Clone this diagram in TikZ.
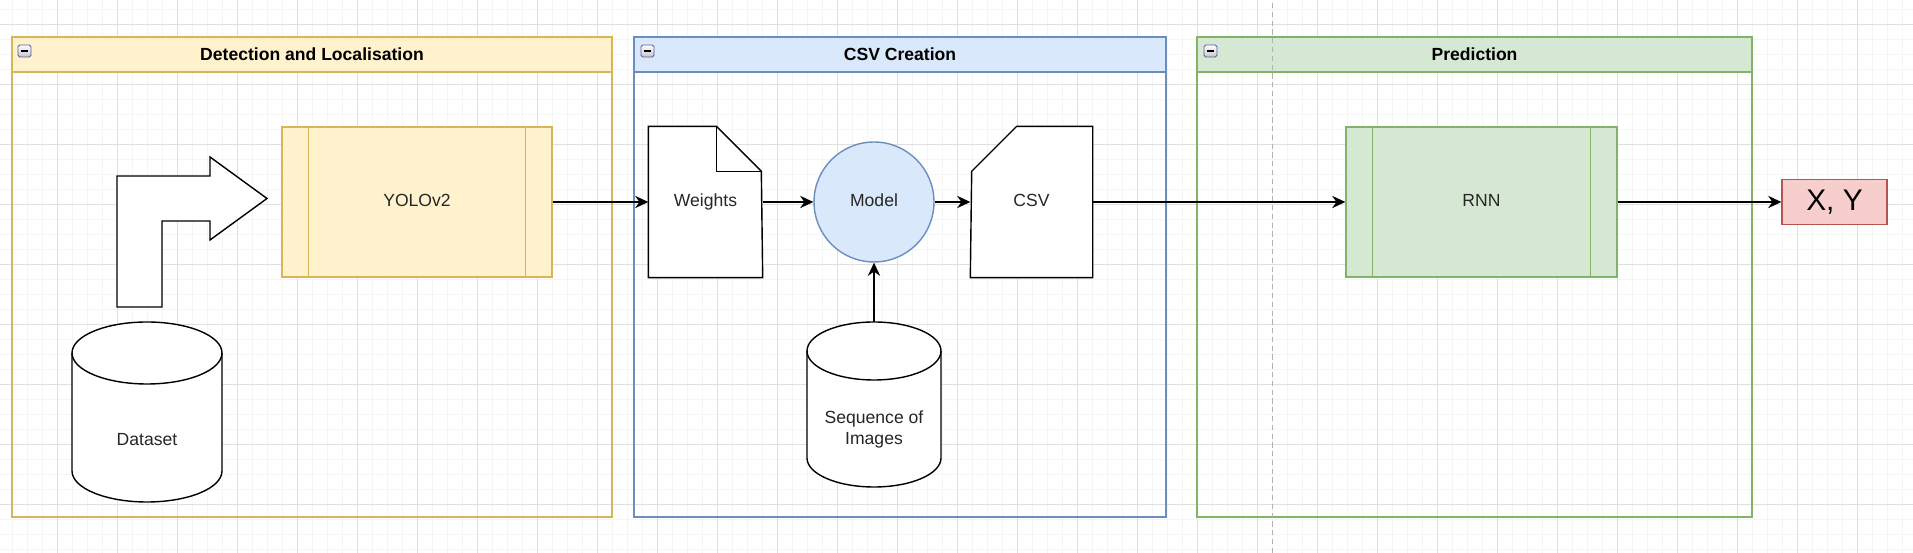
\documentclass[tikz,border=0pt]{standalone}
\usepackage{fontspec}
\setmainfont{Liberation Sans}
\usetikzlibrary{arrows.meta, positioning}
\definecolor{yellowfill}{HTML}{FFF2CC}
\definecolor{yellowline}{HTML}{D6B656}
\definecolor{bluefill}{HTML}{DAE8FC}
\definecolor{blueline}{HTML}{6C8EBF}
\definecolor{greenfill}{HTML}{D5E8D4}
\definecolor{greenline}{HTML}{82B366}
\definecolor{redfill}{HTML}{F8CECC}
\definecolor{redline}{HTML}{B85450}

\begin{document}
\begin{tikzpicture}[x=0.02cm, y=0.02cm, >={Stealth[length=7.5pt, width=7pt]},
  majorgrid/.style={draw=black!12, line width=0.5pt},
  minorgrid/.style={draw=black!4, line width=0.5pt},
  frameline/.style={line width=0.8pt},
  title/.style={font=\bfseries\fontsize{10}{12}\selectfont},
  icon/.style={draw=gray!70!blue, line width=0.5pt, top color=white, bottom color=gray!45, rounded corners=1pt},
  box/.style={draw, line width=0.8pt, inner sep=0pt, minimum height=3cm, text=black!85,
    text height=7.2pt, text depth=2.1pt, font=\fontsize{10}{12}\selectfont},
  shapeline/.style={draw=black, line width=0.8pt, fill=white},
  plain/.style={text=black!85, font=\fontsize{10}{12}\selectfont, align=center},
  conn/.style={->, line width=0.8pt},
  pagebreak/.style={draw=black!30, line width=0.5pt, dash pattern=on 3pt off 2pt}]
  % Background and grid
  \fill[white] (0,0) rectangle (1913,553);
  \useasboundingbox (0,0) rectangle (1913,553);
  \foreach \gx in {12,27,...,1910} \draw[minorgrid] (\gx,0) -- (\gx,553);
  \foreach \gy in {4,19,...,550} \draw[minorgrid] (0,\gy) -- (1913,\gy);
  \foreach \gx in {57,117,...,1910} \draw[majorgrid] (\gx,0) -- (\gx,553);
  \foreach \gy in {49,109,...,550} \draw[majorgrid] (0,\gy) -- (1913,\gy);

  % Frames
  \draw[frameline, yellowline] (12,36) rectangle (612,481);
  \draw[frameline, yellowline, fill=yellowfill] (12,481) rectangle (612,516);
  \node[title] (dettitle) at (312,498.5) {Detection and Localisation};
  \draw[icon] (18,496) rectangle (31,508);
  \draw[line width=1pt] (21,502) -- (28,502);

  \draw[frameline, blueline] (634,36) rectangle (1166,481);
  \draw[frameline, blueline, fill=bluefill] (634,481) rectangle (1166,516);
  \node[title] (csvtitle) at (900,498.5) {CSV Creation};
  \draw[icon] (641,496) rectangle (654,508);
  \draw[line width=1pt] (644,502) -- (651,502);

  \draw[frameline, greenline] (1197,36) rectangle (1752,481);
  \draw[frameline, greenline, fill=greenfill] (1197,481) rectangle (1752,516);
  \node[title] (predtitle) at (1474.5,498.5) {Prediction};
  \draw[icon] (1204,496) rectangle (1217,508);
  \draw[line width=1pt] (1207,502) -- (1214,502);

  % Page break
  \draw[pagebreak] (1272,0) -- (1272,553);

  % Detection and Localisation
  \node[box, fill=yellowfill, draw=yellowline, minimum width=5.4cm] (yolo) at (417,351) {YOLOv2};
  \draw[yellowline, line width=0.8pt] ([xshift=0.54cm]yolo.north west) -- ([xshift=0.54cm]yolo.south west);
  \draw[yellowline, line width=0.8pt] ([xshift=-0.54cm]yolo.north east) -- ([xshift=-0.54cm]yolo.south east);
  \draw[shapeline] (117,246) -- (117,377) -- (210,377) -- (210,396) -- (267,354.5)
    -- (210,313) -- (210,332) -- (162,332) -- (162,246) -- cycle;
  \draw[shapeline] (72,200) -- (72,82) arc[start angle=180, end angle=360, x radius=75, y radius=31]
    -- (222,200) arc[start angle=0, end angle=180, x radius=75, y radius=31] -- cycle;
  \draw[shapeline, fill=none] (72,200) arc[start angle=180, end angle=360, x radius=75, y radius=31];
  \node[plain] (dataset) at (147,113) {Dataset};

  % CSV Creation
  \node[box, draw=none, minimum width=2.26cm] (weights) at (705.5,351) {};
  \draw[shapeline] (weights.south west) -- (weights.north west) -- ++(68,0) -- ++(45,-45)
    -- (weights.south east) -- cycle;
  \draw[shapeline, fill=none] ([xshift=1.36cm]weights.north west) -- ++(0,-45) -- ++(45,0);
  \node[plain, text height=7.2pt, text depth=2.1pt] (weightstext) at (weights) {Weights};
  \node[box, circle, fill=bluefill, draw=blueline, minimum size=2.4cm] (model) at (874,351) {Model};
  \node[box, draw=none, minimum width=2.42cm] (csv) at (1031.5,351) {};
  \draw[shapeline] (csv.south west) -- (csv.south east) -- (csv.north east) -- ++(-76,0)
    -- ++(-45,-45) -- cycle;
  \node[plain, text height=7.2pt, text depth=2.1pt] (csvtext) at (csv) {CSV};
  \node[minimum width=2.68cm, minimum height=3.3cm, inner sep=0pt] (seq) at (874,148.5) {};
  \draw[shapeline] (807,202) -- (807,95) arc[start angle=180, end angle=360, x radius=67, y radius=29]
    -- (941,202) arc[start angle=0, end angle=180, x radius=67, y radius=29] -- cycle;
  \draw[shapeline, fill=none] (807,202) arc[start angle=180, end angle=360, x radius=67, y radius=29];
  \node[plain] (seqtext) at (874,123.5) {Sequence of\\Images};

  % Prediction
  \node[box, fill=greenfill, draw=greenline, minimum width=5.42cm] (rnn) at (1481.5,351) {RNN};
  \draw[greenline, line width=0.8pt] ([xshift=0.54cm]rnn.north west) -- ([xshift=0.54cm]rnn.south west);
  \draw[greenline, line width=0.8pt] ([xshift=-0.54cm]rnn.north east) -- ([xshift=-0.54cm]rnn.south east);
  \node[box, fill=redfill, draw=redline, minimum width=2.1cm, minimum height=0.9cm,
    font=\fontsize{17}{20}\selectfont, text=black, text height=12.2pt, text depth=2pt] (xy) at (1834.5,351) {X, Y};

  % Connectors
  \draw[conn] (yolo) -- (weights);
  \draw[conn] (weights) -- (model);
  \draw[conn] (model) -- (csv);
  \draw[conn] (csv) -- (rnn);
  \draw[conn] (rnn) -- (xy);
  \draw[conn] (seq.north) -- (model.south);
\end{tikzpicture}
\end{document}
